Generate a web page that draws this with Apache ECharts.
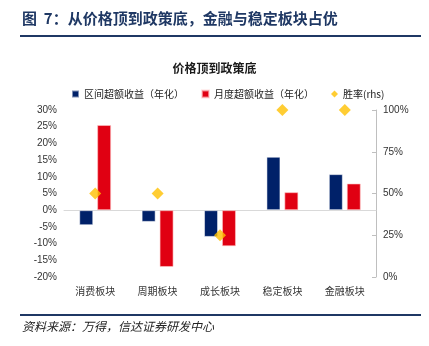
<!DOCTYPE html>
<html>
<head>
<meta charset="utf-8">
<script src="https://cdn.jsdelivr.net/npm/echarts@6/dist/echarts.min.js"></script>
<style>
  html, body { margin: 0; padding: 0; background: #fff; }
  #chart { width: 429px; height: 346px; }
</style>
</head>
<body>
<div id="chart"></div>
<script>
// Sector groups
const categories = ['消费板块', '周期板块', '成长板块', '稳定板块', '金融板块'];
// Interval excess return, annualised (%)
const intervalExcess = [-4.5, -3.5, -8.0, 16.0, 10.8];
// Monthly excess return, annualised (%)
const monthlyExcess = [25.5, -17.0, -10.8, 5.4, 8.0];
// Win rate (%), right-hand axis
const winRate = [50, 50, 25, 100, 100];

const seriesNames = ['区间超额收益（年化）', '月度超额收益（年化）', '胜率(rhs)'];

const cjk = '"Noto Sans CJK SC", sans-serif';
const latin = '"Liberation Sans", Arial, sans-serif';

const chart = echarts.init(document.getElementById('chart'));
chart.setOption({
  animation: false,
  backgroundColor: '#ffffff',
  title: {
    text: '价格顶到政策底',
    left: 'center',
    top: 57,
    textStyle: { fontFamily: cjk, fontSize: 12, fontWeight: 'bold', color: '#1a1a1a' }
  },
  legend: {
    top: 84,
    left: 66,
    itemWidth: 7,
    itemHeight: 7,
    itemGap: 17,
    textStyle: { fontFamily: cjk, fontSize: 10, color: '#222' },
    data: [
      { name: seriesNames[0], icon: 'rect' },
      { name: seriesNames[1], icon: 'rect' },
      { name: seriesNames[2], icon: 'diamond' }
    ]
  },
  grid: { left: 64, right: 53, top: 110, bottom: 69 },
  xAxis: [
    {
      type: 'category',
      data: categories,
      axisLine: { onZero: true, onZeroAxisIndex: 0, lineStyle: { color: '#d9d9d9', width: 1 } },
      axisTick: { show: false },
      axisLabel: { show: false }
    },
    {
      type: 'category',
      data: categories,
      position: 'bottom',
      axisLine: { show: false, onZero: false },
      axisTick: { show: false },
      axisLabel: { fontFamily: cjk, fontSize: 10, color: '#333', margin: 9 }
    }
  ],
  yAxis: [
    {
      type: 'value',
      min: -20,
      max: 30,
      interval: 5,
      axisLine: { show: false },
      axisTick: { show: false },
      splitLine: { show: false },
      axisLabel: { formatter: '{value}%', fontFamily: latin, fontSize: 10, color: '#333', margin: 7 }
    },
    {
      type: 'value',
      position: 'right',
      min: 0,
      max: 100,
      interval: 25,
      axisLine: { show: true, lineStyle: { color: '#bfbfbf' } },
      axisTick: { show: true, inside: true, length: 4, lineStyle: { color: '#bfbfbf' } },
      splitLine: { show: false },
      axisLabel: { formatter: '{value}%', fontFamily: latin, fontSize: 10, color: '#333', margin: 7 }
    }
  ],
  series: [
    {
      name: seriesNames[0],
      type: 'bar',
      data: intervalExcess,
      barWidth: 14,
      barGap: '28%',
      itemStyle: { color: '#002169', borderColor: 'rgba(255,255,255,0.5)', borderWidth: 1 }
    },
    {
      name: seriesNames[1],
      type: 'bar',
      data: monthlyExcess,
      barWidth: 14,
      barGap: '28%',
      itemStyle: { color: '#e00012', borderColor: 'rgba(255,200,200,0.6)', borderWidth: 1 }
    },
    {
      name: seriesNames[2],
      type: 'scatter',
      yAxisIndex: 1,
      data: winRate,
      symbol: 'diamond',
      symbolSize: 12,
      itemStyle: { color: '#ffc000' },
      z: 5
    }
  ],
  graphic: [
    {
      type: 'text',
      left: 22,
      top: 11,
      style: {
        text: '图  7：从价格顶到政策底，金融与稳定板块占优',
        font: 'bold 15px "Noto Sans CJK SC", sans-serif',
        fill: '#1f3864'
      }
    },
    {
      type: 'line',
      shape: { x1: 20, y1: 36, x2: 421, y2: 36 },
      style: { stroke: '#1f3864', lineWidth: 2 }
    },
    {
      type: 'line',
      shape: { x1: 20, y1: 315, x2: 421, y2: 315 },
      style: { stroke: '#1f3864', lineWidth: 2 }
    },
    {
      type: 'text',
      left: 22,
      top: 320,
      style: {
        text: '资料来源：万得，信达证券研发中心',
        font: 'italic 12px "Noto Sans CJK SC", sans-serif',
        fill: '#222'
      }
    }
  ]
});
</script>
</body>
</html>
